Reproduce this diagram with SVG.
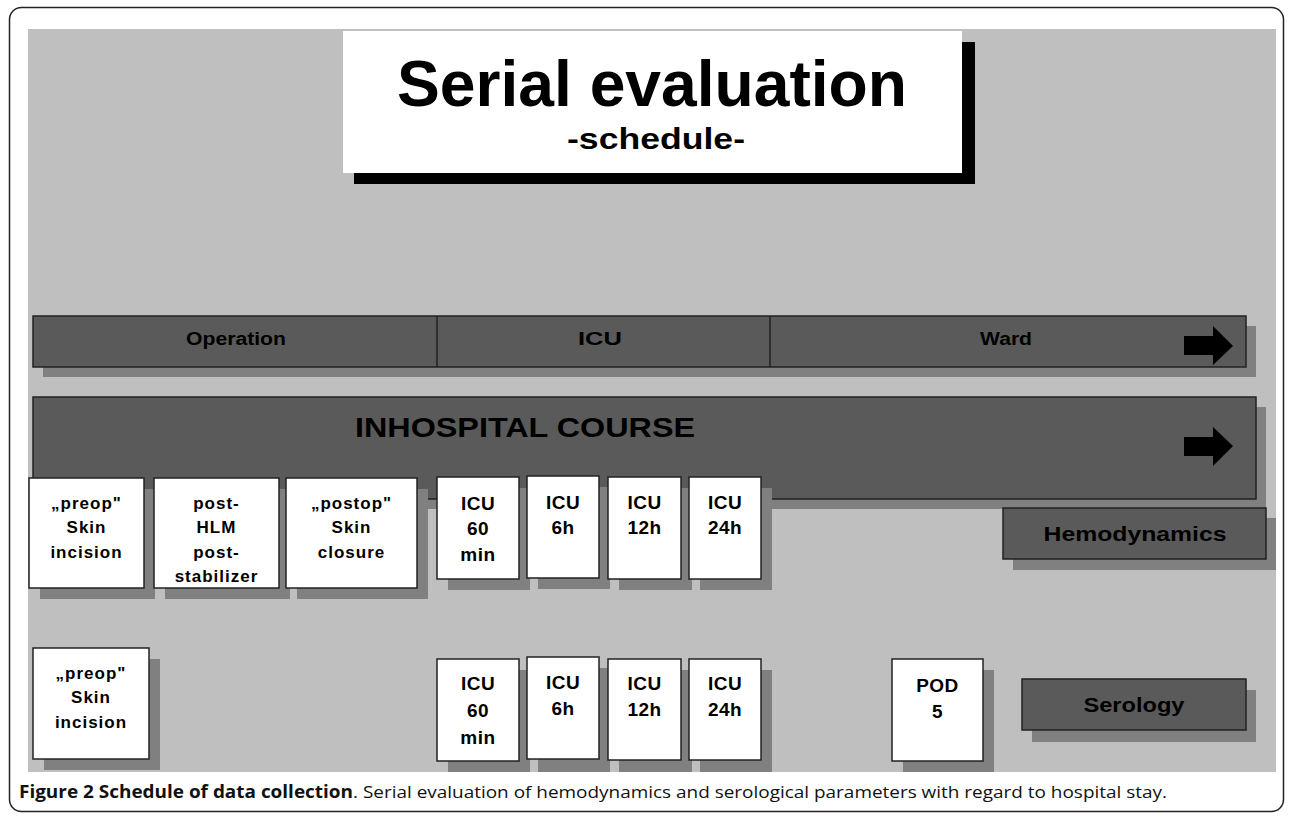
<svg xmlns="http://www.w3.org/2000/svg" width="1290" height="816" viewBox="0 0 1290 816">
<style>
.bg{fill:#bfbfbf}
.bar{fill:#5a5a5a;stroke:#222;stroke-width:1.5}
.sh{fill:#808080}
.box{fill:#fff;stroke:#222;stroke-width:1.5}
.t{font-family:"Liberation Sans",Arial,sans-serif;font-weight:bold;fill:#000;text-anchor:middle}
.bt{font-size:17px;letter-spacing:1px}
.it{font-size:19px;letter-spacing:0.5px}
.cap{font-family:"Open Sans","Liberation Sans",sans-serif;font-size:17px;fill:#111}
</style>
<rect x="9.5" y="7.5" width="1274" height="804" rx="12" fill="#fff" stroke="#222" stroke-width="1.5"/>
<rect class="bg" x="28" y="29" width="1248" height="743"/>

<g id="title">
<rect x="354" y="42" width="621" height="142" fill="#000"/>
<rect x="343" y="31" width="619" height="142" fill="#fff"/>
<text class="t" x="652" y="106" font-size="64" textLength="510" lengthAdjust="spacingAndGlyphs">Serial evaluation</text>
<text class="t" x="656" y="149" font-size="30" textLength="178" lengthAdjust="spacingAndGlyphs">-schedule-</text>
</g>

<g id="phase-bar">
<rect class="sh" x="43" y="326" width="1213" height="51"/>
<rect class="bar" x="33" y="316" width="1213" height="51"/>
<line x1="437" y1="316" x2="437" y2="367" stroke="#222" stroke-width="1.5"/>
<line x1="770" y1="316" x2="770" y2="367" stroke="#222" stroke-width="1.5"/>
<text class="t" x="236" y="345" font-size="18" textLength="100" lengthAdjust="spacingAndGlyphs">Operation</text>
<text class="t" x="600" y="345" font-size="18" textLength="44" lengthAdjust="spacingAndGlyphs">ICU</text>
<text class="t" x="1006" y="345" font-size="18" textLength="52" lengthAdjust="spacingAndGlyphs">Ward</text>
<polygon points="1184,336 1213,336 1213,326 1233,346 1213,365 1213,355 1184,355" fill="#000"/>
</g>

<g id="inhospital-course">
<rect class="sh" x="43" y="407" width="1223" height="102"/>
<rect class="bar" x="33" y="397" width="1223" height="102"/>
<text class="t" x="525" y="437" font-size="28" textLength="340" lengthAdjust="spacingAndGlyphs">INHOSPITAL COURSE</text>
<polygon points="1184,437 1213,437 1213,427 1233,446 1213,466 1213,456 1184,456" fill="#000"/>
</g>

<g id="hemodynamics">
<rect class="sh" x="1013" y="518" width="263" height="52"/>
<rect class="bar" x="1003" y="508" width="263" height="51"/>
<text class="t" x="1135" y="541" font-size="21" textLength="183" lengthAdjust="spacingAndGlyphs">Hemodynamics</text>
</g>

<g id="serology">
<rect class="sh" x="1032" y="690" width="224" height="52"/>
<rect class="bar" x="1022" y="679" width="224" height="51"/>
<text class="t" x="1134" y="712" font-size="20" textLength="101" lengthAdjust="spacingAndGlyphs">Serology</text>
</g>

<g id="h-preop">
<rect class="sh" x="40" y="489" width="115" height="110"/>
<rect class="box" x="29" y="478" width="115" height="110"/>
<text class="t bt" x="86.5" y="509">„preop"</text>
<text class="t bt" x="86.5" y="533">Skin</text>
<text class="t bt" x="86.5" y="558">incision</text>
</g>
<g id="h-posthlm">
<rect class="sh" x="165" y="489" width="125" height="110"/>
<rect class="box" x="154" y="478" width="125" height="110"/>
<text class="t bt" x="216.5" y="509">post-</text>
<text class="t bt" x="216.5" y="533">HLM</text>
<text class="t bt" x="216.5" y="558">post-</text>
<text class="t bt" x="216.5" y="582">stabilizer</text>
</g>
<g id="h-postop">
<rect class="sh" x="297" y="489" width="131" height="110"/>
<rect class="box" x="286" y="478" width="131" height="110"/>
<text class="t bt" x="351.5" y="509">„postop"</text>
<text class="t bt" x="351.5" y="533">Skin</text>
<text class="t bt" x="351.5" y="558">closure</text>
</g>
<g id="h-icu60">
<rect class="sh" x="448" y="488" width="82" height="102"/>
<rect class="box" x="437" y="477" width="82" height="102"/>
<text class="t it" x="478" y="510">ICU</text>
<text class="t it" x="478" y="535">60</text>
<text class="t it" x="478" y="561">min</text>
</g>
<g id="h-icu6">
<rect class="sh" x="538" y="487" width="72" height="102"/>
<rect class="box" x="527" y="476" width="72" height="102"/>
<text class="t it" x="563" y="509">ICU</text>
<text class="t it" x="563" y="534">6h</text>
</g>
<g id="h-icu12">
<rect class="sh" x="619" y="488" width="73" height="102"/>
<rect class="box" x="608" y="477" width="73" height="102"/>
<text class="t it" x="644.5" y="509">ICU</text>
<text class="t it" x="644.5" y="534">12h</text>
</g>
<g id="h-icu24">
<rect class="sh" x="700" y="488" width="72" height="102"/>
<rect class="box" x="689" y="477" width="72" height="102"/>
<text class="t it" x="725" y="509">ICU</text>
<text class="t it" x="725" y="534">24h</text>
</g>

<g id="s-preop">
<rect class="sh" x="44" y="659" width="116" height="111"/>
<rect class="box" x="33" y="648" width="116" height="111"/>
<text class="t bt" x="91" y="679">„preop"</text>
<text class="t bt" x="91" y="703">Skin</text>
<text class="t bt" x="91" y="728">incision</text>
</g>
<g id="s-icu60">
<rect class="sh" x="448" y="670" width="82" height="102"/>
<rect class="box" x="437" y="659" width="82" height="102"/>
<text class="t it" x="478" y="690">ICU</text>
<text class="t it" x="478" y="717">60</text>
<text class="t it" x="478" y="744">min</text>
</g>
<g id="s-icu6">
<rect class="sh" x="538" y="668" width="72" height="104"/>
<rect class="box" x="527" y="657" width="72" height="102"/>
<text class="t it" x="563" y="689">ICU</text>
<text class="t it" x="563" y="715">6h</text>
</g>
<g id="s-icu12">
<rect class="sh" x="619" y="670" width="73" height="102"/>
<rect class="box" x="608" y="659" width="73" height="101"/>
<text class="t it" x="644.5" y="690">ICU</text>
<text class="t it" x="644.5" y="716">12h</text>
</g>
<g id="s-icu24">
<rect class="sh" x="700" y="670" width="72" height="102"/>
<rect class="box" x="689" y="659" width="72" height="101"/>
<text class="t it" x="725" y="690">ICU</text>
<text class="t it" x="725" y="716">24h</text>
</g>
<g id="s-pod5">
<rect class="sh" x="903" y="670" width="91" height="102"/>
<rect class="box" x="892" y="659" width="91" height="102"/>
<text class="t it" x="937.5" y="692">POD</text>
<text class="t it" x="937.5" y="718">5</text>
</g>

<g id="connectors"></g>

<text class="cap" x="19" y="798" textLength="1148" lengthAdjust="spacingAndGlyphs"><tspan font-weight="bold">Figure 2 Schedule of data collection</tspan>. Serial evaluation of hemodynamics and serological parameters with regard to hospital stay.</text>
</svg>
